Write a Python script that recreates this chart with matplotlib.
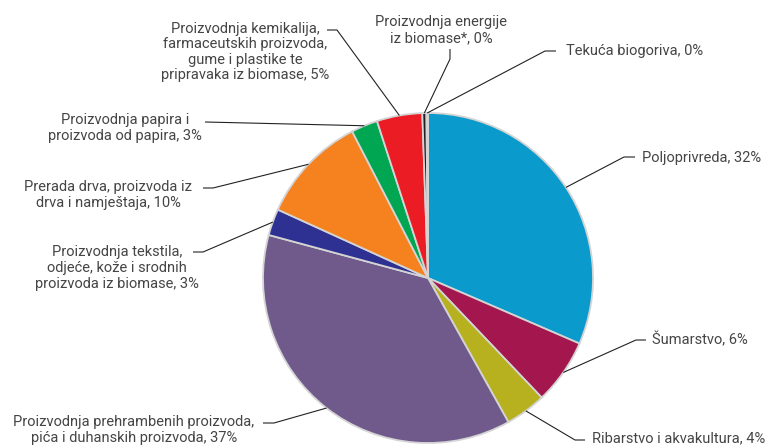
import numpy as np
import matplotlib.pyplot as plt

W, H = 774, 447

# shares (labels carry the rounded figures)
sectors = ['Poljoprivreda', 'Šumarstvo', 'Ribarstvo i akvakultura',
           'Proizvodnja prehrambenih proizvoda, pića i duhanskih proizvoda',
           'Proizvodnja tekstila, odjeće, kože i srodnih proizvoda iz biomase',
           'Prerada drva, proizvoda iz drva i namještaja',
           'Proizvodnja papira i proizvoda od papira',
           'Proizvodnja kemikalija, farmaceutskih proizvoda, gume i plastike te pripravaka iz biomase',
           'Proizvodnja energije iz biomase*', 'Tekuća biogoriva']
shares = [31.5, 6.4, 4.0, 37.3, 2.6, 10.6, 2.6, 4.45, 0.4, 0.15]
labels = ['Poljoprivreda, 32%',
          'Šumarstvo, 6%',
          'Ribarstvo i akvakultura, 4%',
          'Proizvodnja prehrambenih proizvoda,\npića i duhanskih proizvoda, 37%',
          'Proizvodnja tekstila,\nodjeće, kože i srodnih\nproizvoda iz biomase, 3%',
          'Prerada drva, proizvoda iz\ndrva i namještaja, 10%',
          'Proizvodnja papira i\nproizvoda od papira, 3%',
          'Proizvodnja kemikalija,\nfarmaceutskih proizvoda,\ngume i plastike te\npripravaka iz biomase, 5%',
          'Proizvodnja energije\niz biomase*, 0%',
          'Tekuća biogoriva, 0%']
colors = ['#0a9acb', '#a3164e', '#b7b11f', '#6f5a8b', '#2e3192',
          '#f5821f', '#00a651', '#ec1c24', '#231f20', '#8a8a8a']

# label layout in image pixels: text pos, alignment, elbow start/end
layout = [
    ((642, 158), 'left',   [(635, 157), (624, 157)]),
    ((652, 340), 'left',   [(646, 340), (636, 340)]),
    ((592, 438), 'left',   [(585, 440), (575, 440)]),
    ((134, 430), 'center', [(263, 423), (274, 423)]),
    ((117, 268), 'center', [(193, 252), (203, 252)]),
    ((108, 195), 'center', [(203, 188), (213, 188)]),
    ((125, 128), 'center', [(205, 122)]),
    ((245, 52),  'center', [(327, 30), (337, 30)]),
    ((441, 30),  'center', [(450, 49), (450, 59)]),
    ((566, 51),  'left',   [(556, 51), (545, 51)]),
]

cx, cy, r = 428, H - 278, 165

plt.rcParams['font.family'] = ['Roboto', 'DejaVu Sans']
fig = plt.figure(figsize=(W / 100, H / 100), dpi=100)
ax = fig.add_axes([0, 0, 1, 1])

wedges, _ = ax.pie(shares, colors=colors, startangle=90, counterclock=False,
                   center=(cx, cy), radius=r, frame=True,
                   wedgeprops=dict(edgecolor='#d4d4d4', linewidth=1.3))

for w, lab, (pos, ha, elbow) in zip(wedges, labels, layout):
    mid = np.deg2rad((w.theta1 + w.theta2) / 2)
    ex, ey = cx + r * np.cos(mid), cy + r * np.sin(mid)
    xs = [p[0] for p in elbow] + [ex]
    ys = [H - p[1] for p in elbow] + [ey]
    ax.plot(xs, ys, color='#222222', linewidth=0.8, solid_capstyle='butt')
    ax.text(pos[0], H - pos[1], lab, ha=ha, va='center', fontsize=10.5,
            color='#454545', linespacing=1.15, multialignment='center')

ax.set_xlim(0, W)
ax.set_ylim(0, H)
ax.set_aspect('equal')
ax.axis('off')

fig.savefig('out.png', dpi=100)
